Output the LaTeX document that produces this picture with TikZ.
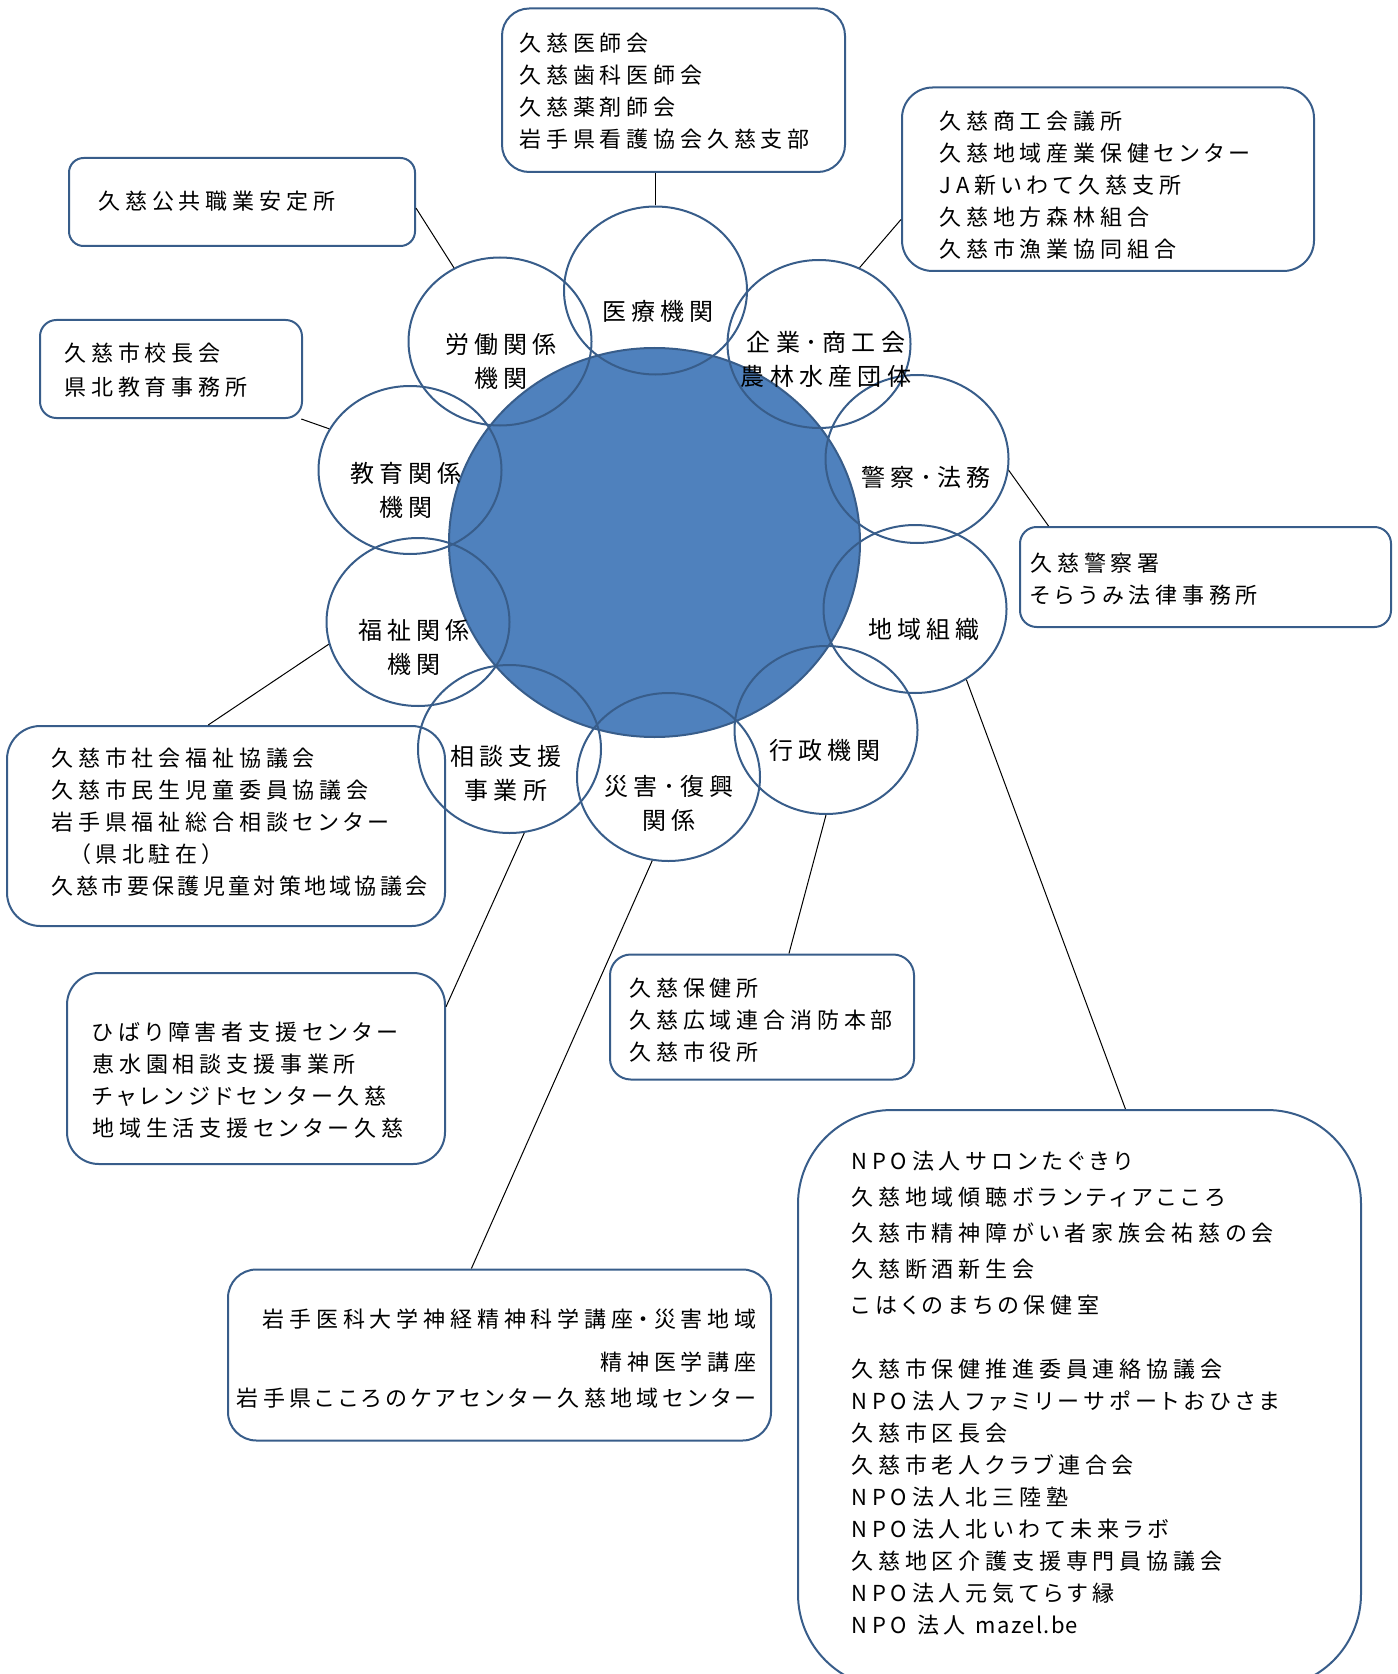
\documentclass[tikz,border=0pt]{standalone}
\usepackage{fontspec}
\newfontfamily\jp[LetterSpace=22,RawFeature=+palt]{Noto Sans CJK JP}
\newfontfamily\jpmid[LetterSpace=19,RawFeature=+palt]{Noto Sans CJK JP}
\newfontfamily\jpnarrow[LetterSpace=15,RawFeature=+palt]{Noto Sans CJK JP}
\newfontfamily\jplatin[LetterSpace=6]{Noto Sans CJK JP}
\usepackage{tikz}
\usetikzlibrary{shapes.geometric}
\usetikzlibrary{positioning}
\definecolor{hubblue}{RGB}{79,129,189}
\definecolor{rimblue}{RGB}{56,93,138}

\begin{document}
\begin{tikzpicture}[x=0.5pt,y=-0.5pt,
petal/.style={ellipse,draw=rimblue,line width=1pt,minimum width=91.5pt,minimum height=84pt,inner sep=0pt},
plabel/.style={font=\jp\fontsize{12pt}{17pt}\selectfont,align=center,inner sep=0pt},
orgbox/.style={draw=rimblue,line width=1pt,rounded corners=#1,inner sep=0pt},
orgtext/.style={font=\jp\fontsize{11pt}{16pt}\selectfont,align=left,anchor=west,inner sep=0pt},
link/.style={line width=0.5pt}]
\useasboundingbox (0,0) rectangle (1397,1674);
\node[ellipse,fill=hubblue,draw=rimblue,line width=1pt,minimum width=205.5pt,minimum height=194.5pt,inner sep=0pt] (hub) at (654.5,542.5) {};
\node[petal] (iryo) at (655.5,290.5) {};
\node[petal] (rodo) at (500,341.5) {};
\node[petal] (kigyo) at (819,344) {};
\node[petal] (keisatsu) at (917,459) {};
\node[petal] (chiiki) at (915,609) {};
\node[petal] (gyosei) at (826,730) {};
\node[petal] (saigai) at (668.5,777) {};
\node[petal] (sodan) at (509.5,749) {};
\node[petal] (fukushi) at (418,622) {};
\node[petal] (kyoiku) at (410,470) {};
\node[plabel] (l-iryo) at (658,311) {医療機関};
\node[plabel] (l-rodo) at (501,361) {労働関係\\機関};
\node[plabel] (l-kigyo) at (826,359) {企業･商工会\\農林水産団体};
\node[plabel] (l-keisatsu) at (926,477) {警察･法務};
\node[plabel] (l-chiiki) at (924,629) {地域組織};
\node[plabel] (l-gyosei) at (825,750) {行政機関};
\node[plabel] (l-saigai) at (669,803) {災害･復興\\関係};
\node[plabel] (l-sodan) at (506,773) {相談支援\\事業所};
\node[plabel] (l-fukushi) at (414,647) {福祉関係\\機関};
\node[plabel] (l-kyoiku) at (406,490) {教育関係\\機関};

\node[orgbox=7.3pt,minimum width=173pt,minimum height=44pt] (b-rodo) at (242,202) {};
\node[orgbox=8.2pt,minimum width=131pt,minimum height=49pt] (b-kyoiku) at (171,369) {};
\node[orgbox=13.6pt,minimum width=171.5pt,minimum height=81.75pt] (b-iryo) at (673.5,90.25) {};
\node[orgbox=15.3pt,minimum width=206pt,minimum height=91.75pt] (b-kigyo) at (1108,179.25) {};
\node[orgbox=8.3pt,minimum width=185.5pt,minimum height=50pt] (b-keisatsu) at (1205.5,577) {};
\node[orgbox=16.7pt,minimum width=219pt,minimum height=100pt] (b-fukushi) at (226,826) {};
\node[orgbox=15.9pt,minimum width=189pt,minimum height=95.5pt] (b-sodan) at (256,1068.5) {};
\node[orgbox=10.4pt,minimum width=152pt,minimum height=62.5pt] (b-gyosei) at (762,1017) {};
\node[orgbox=14.2pt,minimum width=271.5pt,minimum height=85.5pt] (b-saigai) at (499.5,1355) {};
\node[orgbox=47pt,minimum width=281.5pt,minimum height=289pt] (b-chiiki) at (1079.5,1399) {};

\node[orgtext] (t-rodo) at (98,201) {久慈公共職業安定所};
\node[orgtext] (t-kyoiku) at (64,370) {久慈市校長会\\[1pt]県北教育事務所};
\node[orgtext] (t-iryo) at (519,91) {久慈医師会\\久慈歯科医師会\\久慈薬剤師会\\岩手県看護協会久慈支部};
\node[orgtext] (t-kigyo) at (939,185) {久慈商工会議所\\久慈地域産業保健センター\\JA新いわて久慈支所\\久慈地方森林組合\\久慈市漁業協同組合};
\node[orgtext] (t-keisatsu) at (1030,579) {久慈警察署\\そらうみ法律事務所};
\node[orgtext] (t-fukushi) at (51,822) {久慈市社会福祉協議会\\久慈市民生児童委員協議会\\岩手県福祉総合相談センター\\\hspace*{14pt}（県北駐在）\\{\jpnarrow 久慈市要保護児童対策地域協議会}};
\node[orgtext] (t-sodan) at (92,1080) {ひばり障害者支援センター\\恵水園相談支援事業所\\チャレンジドセンター久慈\\地域生活支援センター久慈};
\node[orgtext] (t-gyosei) at (629,1020) {久慈保健所\\久慈広域連合消防本部\\久慈市役所};
\node[orgtext,align=right,anchor=east] (t-saigai) at (757,1359) {岩手医科大学神経精神科学講座・災害地域\\[5.5pt]精神医学講座\\[2pt]{\jpmid 岩手県こころのケアセンター久慈地域センター}};
\node[orgtext] (t-chiiki) at (851,1393) {NPO法人サロンたぐきり\\[2pt]久慈地域傾聴ボランティアこころ\\[2pt]久慈市精神障がい者家族会祐慈の会\\[2pt]久慈断酒新生会\\[2pt]こはくのまちの保健室\\[16pt]久慈市保健推進委員連絡協議会\\NPO法人ファミリーサポートおひさま\\久慈市区長会\\久慈市老人クラブ連合会\\NPO法人北三陸塾\\NPO法人北いわて未来ラボ\\久慈地区介護支援専門員協議会\\NPO法人元気てらす縁\\NPO 法人 {\jplatin mazel.be}};

\draw[link] (iryo.north) -- (iryo.north |- b-iryo.south);
\draw[link] (rodo.122) -- (b-rodo.-2);
\draw[link] (kyoiku.153) -- (b-kyoiku.-21);
\draw[link] (kigyo.62) -- (b-kigyo.191);
\draw[link] (keisatsu.-7) -- (b-keisatsu.162);
\draw[link] (chiiki.-54) -- (b-chiiki.81);
\draw[link] (gyosei.south) -- (b-gyosei.67);
\draw[link] (saigai.-101) -- (b-saigai.108);
\draw[link] (sodan.-80) -- (b-sodan.18);
\draw[link] (fukushi.194) -- (b-fukushi.100);
\end{tikzpicture}
\end{document}
